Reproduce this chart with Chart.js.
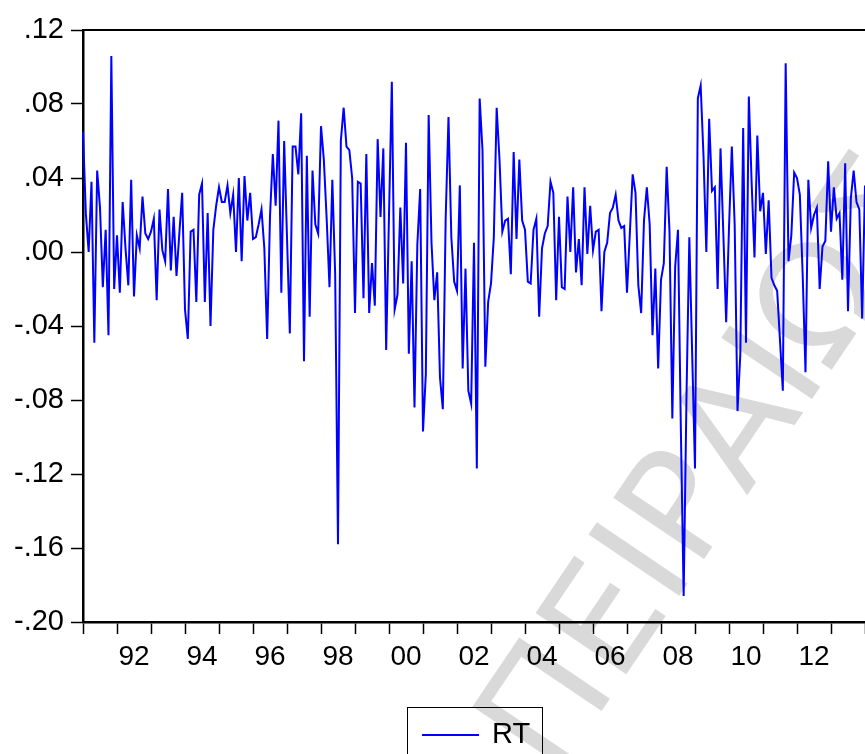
<!DOCTYPE html>
<html>
<head>
<meta charset="utf-8">
<script src="https://cdn.jsdelivr.net/npm/chart.js@4.4.1/dist/chart.umd.min.js"></script>
<style>
  html, body { margin: 0; padding: 0; background: #fff; }
  #wrap { position: relative; width: 865px; height: 754px; overflow: hidden; }
  #watermark { position: absolute; left: 0; top: 0; z-index: 0; }
  #chart { position: absolute; left: 0; top: 0; z-index: 1; }
  #legend {
    position: absolute; left: 407px; top: 707px; width: 136px; height: 60px; z-index: 2;
    border: 1.5px solid #000; box-sizing: border-box;
    font-family: "Liberation Sans", Arial, sans-serif; font-size: 29px; color: #000;
  }
  #legend .swatch { position: absolute; left: 14px; top: 26px; width: 57px; height: 2px; background: #0000ff; }
  #legend .name { position: absolute; left: 84px; top: 11px; line-height: 1; }
</style>
</head>
<body>
<div id="wrap">
  <svg id="watermark" width="865" height="754">
    <text x="555" y="780" transform="rotate(-56 555 780)" fill="#d9d9d9"
          font-family="DejaVu Sans, sans-serif" font-size="150">ΠΕΙΡΑΙΩΣ</text>
  </svg>
  <canvas id="chart" width="865" height="754"></canvas>
  <div id="legend"><span class="swatch"></span><span class="name"></span></div>
</div>
<script>
// Data: monthly RT, first point 1991M01
const startYear = 1991;
const rt1991_1995 = [
  0.065, 0.021, 0.000, 0.038, -0.049, 0.044, 0.024, -0.019, 0.012, -0.045, 0.106, -0.020,
  0.009, -0.022, 0.027, 0.002, -0.018, 0.039, -0.024, 0.009, 0.002, 0.030, 0.010, 0.007,
  0.011, 0.018, -0.026, 0.023, 0.001, -0.005, 0.034, -0.010, 0.019, -0.013, 0.010, 0.032,
  -0.031, -0.047, 0.011, 0.012, -0.027, 0.031, 0.037, -0.027, 0.021, -0.040, 0.012, 0.025,
  0.035, 0.027, 0.027, 0.036, 0.021, 0.031, 0.000, 0.040, -0.005, 0.041, 0.017, 0.032
];
const rt1996_2000 = [
  0.007, 0.008, 0.015, 0.023, 0.002, -0.047, 0.019, 0.053, 0.025, 0.071, -0.022, 0.060,
  0.008, -0.044, 0.057, 0.057, 0.042, 0.075, -0.059, 0.052, -0.035, 0.044, 0.015, 0.010,
  0.068, 0.050, 0.018, -0.019, 0.039, -0.012, -0.158, 0.060, 0.078, 0.057, 0.055, 0.040,
  -0.033, 0.038, 0.037, -0.025, 0.053, -0.033, -0.006, -0.029, 0.061, 0.019, 0.056, -0.053,
  0.020, 0.092, -0.031, -0.023, 0.024, -0.017, 0.059, -0.055, -0.005, -0.084, 0.004, 0.034
];
const rt2001_2005 = [
  -0.097, -0.066, 0.074, 0.005, -0.026, -0.011, -0.068, -0.085, 0.018, 0.073, 0.008, -0.016,
  -0.021, 0.036, -0.063, -0.009, -0.075, -0.082, 0.005, -0.117, 0.083, 0.055, -0.062, -0.027,
  -0.017, 0.008, 0.078, 0.050, 0.011, 0.017, 0.018, -0.012, 0.054, 0.007, 0.050, 0.017,
  0.012, -0.016, -0.017, 0.012, 0.018, -0.035, 0.002, 0.010, 0.014, 0.038, 0.032, -0.026,
  0.019, -0.019, -0.020, 0.030, 0.000, 0.035, -0.011, 0.007, -0.018, 0.035, -0.001, 0.025
];
const rt2006_2010 = [
  0.001, 0.011, 0.012, -0.032, 0.000, 0.005, 0.021, 0.024, 0.031, 0.017, 0.013, 0.014,
  -0.022, 0.010, 0.042, 0.032, -0.018, -0.033, 0.017, 0.035, 0.015, -0.045, -0.009, -0.063,
  -0.015, -0.006, 0.046, 0.011, -0.090, -0.008, 0.012, -0.095, -0.186, -0.078, 0.008, -0.055,
  -0.117, 0.083, 0.090, 0.052, 0.000, 0.072, 0.033, 0.035, -0.020, 0.056, 0.010, -0.038,
  0.013, 0.057, 0.015, -0.086, -0.055, 0.067, -0.049, 0.084, 0.037, -0.003, 0.063, 0.022
];
const rt2011_2014 = [
  0.032, -0.001, 0.028, -0.014, -0.018, -0.021, -0.048, -0.075, 0.102, -0.005, 0.009, 0.043,
  0.040, 0.031, -0.012, -0.065, 0.039, 0.013, 0.020, 0.024, -0.020, 0.003, 0.006, 0.049,
  0.011, 0.035, 0.018, 0.021, -0.015, 0.048, -0.032, 0.029, 0.044, 0.027, 0.023, -0.036,
  0.036
];
const seriesName = 'RT';
const xTickYears = [1992, 1994, 1996, 1998, 2000, 2002, 2004, 2006, 2008, 2010, 2012];
const xTickLabels = ['92', '94', '96', '98', '00', '02', '04', '06', '08', '10', '12'];
const yMin = -0.20, yMax = 0.12, yStep = 0.04;

const rtValues = [...rt1991_1995, ...rt1996_2000, ...rt2001_2005, ...rt2006_2010, ...rt2011_2014];

// Month categories
const months = rtValues.map((_, i) => {
  const y = startYear + Math.floor(i / 12);
  const m = (i % 12) + 1;
  return y + 'M' + String(m).padStart(2, '0');
});

// year label sits mid-year, tick marks at each January
function xLabel(index) {
  if (index % 12 !== 6) return '';
  const k = xTickYears.indexOf(startYear + Math.floor(index / 12));
  return k >= 0 ? xTickLabels[k] : '';
}

function yLabel(v) {
  const r = Math.round(v * 100) / 100;
  const s = Math.abs(r).toFixed(2).slice(1);
  return r < 0 ? '-' + s : s;
}

const fontFamily = '"Liberation Sans", Arial, sans-serif';

const chart = new Chart(document.getElementById('chart').getContext('2d'), {
  type: 'line',
  data: {
    labels: months,
    datasets: [{
      label: seriesName,
      data: rtValues,
      borderColor: '#0000ff',
      borderWidth: 2,
      pointRadius: 0,
      tension: 0,
      fill: false
    }]
  },
  options: {
    responsive: false,
    animation: false,
    devicePixelRatio: 1,
    layout: { padding: 0, autoPadding: false },
    plugins: { legend: { display: false }, tooltip: { enabled: false } },
    scales: {
      x: {
        type: 'category',
        position: 'bottom',
        offset: false,
        grid: {
          drawOnChartArea: false,
          tickLength: 12,
          tickWidth: 1.5,
          tickColor: (c) => (c.index % 12 === 0 ? '#000' : 'rgba(0,0,0,0)')
        },
        border: { color: '#000', width: 2.5 },
        ticks: {
          autoSkip: false, maxRotation: 0, minRotation: 0,
          padding: 6, color: '#000',
          font: { family: fontFamily, size: 28 },
          callback: (val, index) => xLabel(index)
        },
        afterFit: (s) => { s.height = 132; s.paddingLeft = 0; s.paddingRight = 0; }
      },
      xTop: {
        type: 'category',
        position: 'top',
        offset: false,
        grid: { display: false },
        ticks: { display: false },
        border: { color: '#000', width: 2 },
        afterFit: (s) => { s.height = 30; s.paddingLeft = 0; s.paddingRight = 0; }
      },
      y: {
        type: 'linear',
        min: yMin, max: yMax,
        grid: { drawOnChartArea: false, tickLength: 12, tickWidth: 1.5, tickColor: '#000' },
        border: { color: '#000', width: 2.5 },
        ticks: {
          stepSize: yStep, padding: 7, color: '#000',
          font: { family: fontFamily, size: 29 },
          callback: (v) => yLabel(v)
        },
        afterFit: (s) => { s.width = 83; }
      }
    }
  }
});

// legend box below the plot
document.querySelector('#legend .name').textContent = chart.data.datasets[0].label;
</script>
</body>
</html>
